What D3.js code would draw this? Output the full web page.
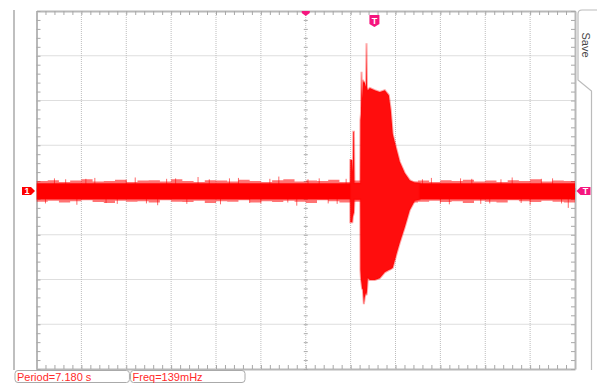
<!DOCTYPE html>
<html>
<head>
<meta charset="utf-8">
<script src="https://cdn.jsdelivr.net/npm/d3@7"></script>
<style>
  body { margin: 0; background: #fff; }
  svg { display: block; font-family: "Liberation Sans", Arial, sans-serif; }
</style>
</head>
<body>
<div id="scope"></div>
<script>
// Screen divisions: 12 across, 8 down
var xDivs = [-6, 6],
    yDivs = [-4, 4];

// Channel 1 noise floor (div), read every 0.25 div from left edge
var noiseStep = 0.25;
var coreTop = 0.15, coreBottom = -0.21;
var noiseTop = [0.20,0.22,0.18,0.21,0.24,0.19,0.20,0.23,0.18,0.21,
                0.22,0.19,0.24,0.20,0.18,0.22,0.21,0.19,0.23,0.20,
                0.18,0.22,0.24,0.19,0.21,0.20,0.23,0.18,0.21,0.19,
                0.22,0.20,0.24,0.19,0.21,0.18,0.22,0.20,0.23,0.19,
                0.21,0.18,0.22,0.20,0.24,0.19,0.21,0.20,0.22];
var noiseBottom = [-0.26,-0.24,-0.28,-0.25,-0.23,-0.27,-0.29,-0.24,-0.26,-0.25,
                   -0.28,-0.23,-0.26,-0.27,-0.24,-0.29,-0.25,-0.26,-0.23,-0.28,
                   -0.25,-0.27,-0.24,-0.26,-0.29,-0.23,-0.25,-0.28,-0.26,-0.24,
                   -0.27,-0.25,-0.23,-0.28,-0.26,-0.24,-0.27,-0.25,-0.29,-0.24,
                   -0.26,-0.28,-0.23,-0.25,-0.27,-0.24,-0.26,-0.28,-0.25];

// Odd noise spikes (time div, peak div)
var spikeT = [-5.8,-5.6,-5.35,-5.1,-4.9,-4.7,-4.45,-4.2,-4.0,-3.8,-3.55,-3.3,-3.1,-2.9,-2.65,-2.4,-2.15,-1.9,-1.7,-1.5,-1.25,-1.0,-0.8,-0.6,-0.4,-0.2,0.05,0.3,0.5,0.7,0.9,
              2.6,2.8,3.0,3.2,3.45,3.7,3.9,4.1,4.35,4.6,4.8,5.0,5.25,5.5,5.7,5.85];
var spikeV = [-0.30,0.26,0.24,-0.33,0.25,0.27,-0.29,-0.31,0.23,0.28,-0.30,-0.34,0.25,0.26,-0.31,0.29,0.24,-0.32,0.26,0.27,-0.29,-0.30,0.25,0.30,-0.28,-0.35,0.24,0.26,-0.30,-0.31,0.25,
              0.24,0.27,-0.30,-0.32,0.26,0.25,-0.31,-0.30,0.24,0.28,-0.29,-0.33,0.25,0.26,-0.30,-0.40];

// Burst envelope (time div, max div, min div)
var burstT      = [0.990, 0.993, 1.038, 1.050, 1.060, 1.075, 1.085, 1.214, 1.218, 1.230, 1.243, 1.255, 1.272, 1.295, 1.316, 1.343, 1.354, 1.365, 1.383, 1.428, 1.539, 1.650, 1.762, 1.851, 1.895, 1.940, 2.029, 2.096, 2.207, 2.318, 2.430, 2.541];
var burstMax    = [0.15,  0.67,  0.67,  0.40,  1.30,  1.30,  0.15,  0.15,  1.56,  1.70,  2.64,  2.05,  2.46,  2.40,  2.41,  2.30,  3.28,  2.30,  2.23,  2.28,  2.23,  2.19,  2.23,  2.12,  1.79,  1.25,  0.89,  0.63,  0.38,  0.22,  0.16,  0.15];
var burstMin    = [-0.21, -0.72, -0.72, -0.60, -0.56, -0.50, -0.21, -0.21, -1.79, -2.00, -2.10, -2.20, -2.23, -2.55, -2.39, -2.30, -2.35, -2.25, -1.97, -2.01, -2.01, -1.97, -1.84, -1.79, -1.77, -1.74, -1.41, -1.18, -0.83, -0.45, -0.24, -0.21];

// Markers
var triggerTime = 1.53, triggerLevel = -0.02, ch1Offset = -0.02;
var measureLabels = ["Period=7.180 s", "Freq=139mHz"];

var width = 597, height = 385;
var plot = {left: 36.5, right: 575, top: 11, bottom: 369};

var svg = d3.select("#scope").append("svg")
    .attr("width", width)
    .attr("height", height);

var x = d3.scaleLinear().domain(xDivs).range([plot.left, plot.right]);
var y = d3.scaleLinear().domain(yDivs).range([plot.bottom, plot.top]);

var majorX = d3.range(xDivs[0], xDivs[1] + 1),
    majorY = d3.range(yDivs[0], yDivs[1] + 1);
var minorX = d3.range(xDivs[0] * 5, xDivs[1] * 5 + 1).map(function (d) { return d / 5; }),
    minorY = d3.range(yDivs[0] * 5, yDivs[1] * 5 + 1).map(function (d) { return d / 5; });

// Side frame lines and Save tab
svg.append("line")
    .attr("x1", 14).attr("x2", 14).attr("y1", 10).attr("y2", 370)
    .attr("stroke", "#aaa").attr("stroke-width", 1.5);
svg.append("path")
    .attr("d", "M597,10 L582,10 Q578,10 578,14 L578,80 L591.5,91 L591.5,370")
    .attr("fill", "none").attr("stroke", "#bbb").attr("stroke-width", 1.2);
svg.append("text")
    .attr("transform", "translate(582,45) rotate(90)")
    .attr("text-anchor", "middle")
    .attr("font-size", 11)
    .attr("fill", "#444")
    .text("Save");

// Grid
var grid = svg.append("g");
grid.selectAll("line.gx")
    .data(majorX.slice(1, -1))
    .enter().append("line")
    .attr("x1", function (d) { return x(d); })
    .attr("x2", function (d) { return x(d); })
    .attr("y1", plot.top).attr("y2", plot.bottom)
    .attr("stroke", "#bdbdbd").attr("stroke-dasharray", "1,1");
grid.selectAll("line.gy")
    .data(majorY.slice(1, -1))
    .enter().append("line")
    .attr("y1", function (d) { return y(d); })
    .attr("y2", function (d) { return y(d); })
    .attr("x1", plot.left).attr("x2", plot.right)
    .attr("stroke", "#bdbdbd").attr("stroke-dasharray", "1,1");

// Border ticks
function styleAxis(g, showDomain) {
    g.selectAll(".tick line").attr("stroke", "#a8a8a8");
    g.selectAll(".tick text").remove();
    g.select(".domain").attr("stroke", showDomain ? "#b8b8b8" : "none").attr("stroke-width", 2);
}
svg.append("g").attr("transform", "translate(0," + plot.top + ")")
    .call(d3.axisTop(x).tickValues(minorX).tickSize(-4).tickSizeOuter(0))
    .call(styleAxis, true);
svg.append("g").attr("transform", "translate(0," + plot.bottom + ")")
    .call(d3.axisBottom(x).tickValues(minorX).tickSize(-4).tickSizeOuter(0))
    .call(styleAxis, true);
svg.append("g").attr("transform", "translate(" + plot.left + ",0)")
    .call(d3.axisLeft(y).tickValues(minorY).tickSize(-4).tickSizeOuter(0))
    .call(styleAxis, true);
svg.append("g").attr("transform", "translate(" + plot.right + ",0)")
    .call(d3.axisRight(y).tickValues(minorY).tickSize(-4).tickSizeOuter(0))
    .call(styleAxis, true);

// Centre cross ticks
[2, -2].forEach(function (s) {
    svg.append("g").attr("transform", "translate(" + x(0) + ",0)")
        .call(d3.axisRight(y).tickValues(minorY).tickSize(s).tickSizeOuter(0))
        .call(styleAxis, false);
    svg.append("g").attr("transform", "translate(0," + y(0) + ")")
        .call(d3.axisBottom(x).tickValues(minorX).tickSize(s).tickSizeOuter(0))
        .call(styleAxis, false);
});

// Trace
svg.append("clipPath").attr("id", "clip")
    .append("rect")
    .attr("x", plot.left).attr("y", plot.top)
    .attr("width", plot.right - plot.left).attr("height", plot.bottom - plot.top);
var trace = svg.append("g").attr("clip-path", "url(#clip)");

var noiseArea = d3.area()
    .x(function (d, i) { return x(xDivs[0] + i * noiseStep); })
    .y0(function (d, i) { return y(noiseBottom[i]); })
    .y1(function (d) { return y(d); })
    .curve(d3.curveStepAfter);
trace.append("path")
    .attr("d", noiseArea(noiseTop))
    .attr("fill", "#ff0000").attr("fill-opacity", 0.55);

trace.append("rect")
    .attr("x", plot.left).attr("width", plot.right - plot.left)
    .attr("y", y(coreTop)).attr("height", y(coreBottom) - y(coreTop))
    .attr("fill", "#ff0000");

trace.selectAll("line.spike")
    .data(spikeT)
    .enter().append("line")
    .attr("x1", function (d) { return x(d); })
    .attr("x2", function (d) { return x(d); })
    .attr("y1", y(0))
    .attr("y2", function (d, i) { return y(spikeV[i]); })
    .attr("stroke", "#ff0000").attr("stroke-opacity", 0.6).attr("stroke-width", 1);

var burstArea = d3.area()
    .x(function (d) { return x(d); })
    .y0(function (d, i) { return y(burstMin[i]); })
    .y1(function (d, i) { return y(burstMax[i]); });
trace.append("path")
    .attr("d", burstArea(burstT))
    .attr("fill", "#ff0d0d")
    .attr("stroke", "#ff0000").attr("stroke-opacity", 0.35).attr("stroke-width", 2);

// Markers
var pink = "#f5167e";
svg.append("path")
    .attr("transform", "translate(" + x(0) + "," + plot.top + ")")
    .attr("d", "M-4,0 L4,0 L4,2 L0,5 L-4,2 Z")
    .attr("fill", pink);

var tTop = svg.append("g").attr("transform", "translate(" + x(triggerTime) + "," + (plot.top + 4) + ")");
tTop.append("path").attr("d", "M-5,0 L5,0 L5,9 L0,12 L-5,9 Z").attr("fill", pink);
tTop.append("text").attr("y", 9).attr("text-anchor", "middle")
    .attr("font-size", 9).attr("font-weight", "bold").attr("fill", "#fff").text("T");

var m1 = svg.append("g").attr("transform", "translate(" + (plot.left - 1.5) + "," + y(ch1Offset) + ")");
m1.append("path").attr("d", "M0,0 L-4,-4 L-13,-4 L-13,4 L-4,4 Z").attr("fill", "#ff0000");
m1.append("text").attr("x", -8).attr("y", 3.5).attr("text-anchor", "middle")
    .attr("font-size", 9).attr("font-weight", "bold").attr("fill", "#fff").text("1");

var mT = svg.append("g").attr("transform", "translate(" + (plot.right + 1.5) + "," + y(triggerLevel) + ")");
mT.append("path").attr("d", "M0,0 L4,-4 L14,-4 L14,4 L4,4 Z").attr("fill", pink);
mT.append("text").attr("x", 9).attr("y", 3.5).attr("text-anchor", "middle")
    .attr("font-size", 9).attr("font-weight", "bold").attr("fill", "#fff").text("T");

// Measurement boxes
var boxX = d3.scaleBand().domain(measureLabels).range([15, 245]).paddingInner(0.01);
var boxes = svg.selectAll("g.meas")
    .data(measureLabels)
    .enter().append("g")
    .attr("transform", function (d) { return "translate(" + boxX(d) + ",370.5)"; });
boxes.append("rect")
    .attr("width", boxX.bandwidth()).attr("height", 12)
    .attr("rx", 3)
    .attr("fill", "#fff").attr("stroke", "#aaa");
boxes.append("text")
    .attr("x", 2).attr("y", 10.5)
    .attr("font-size", 11)
    .attr("fill", "#ff2a2a")
    .text(function (d) { return d; });
</script>
</body>
</html>
